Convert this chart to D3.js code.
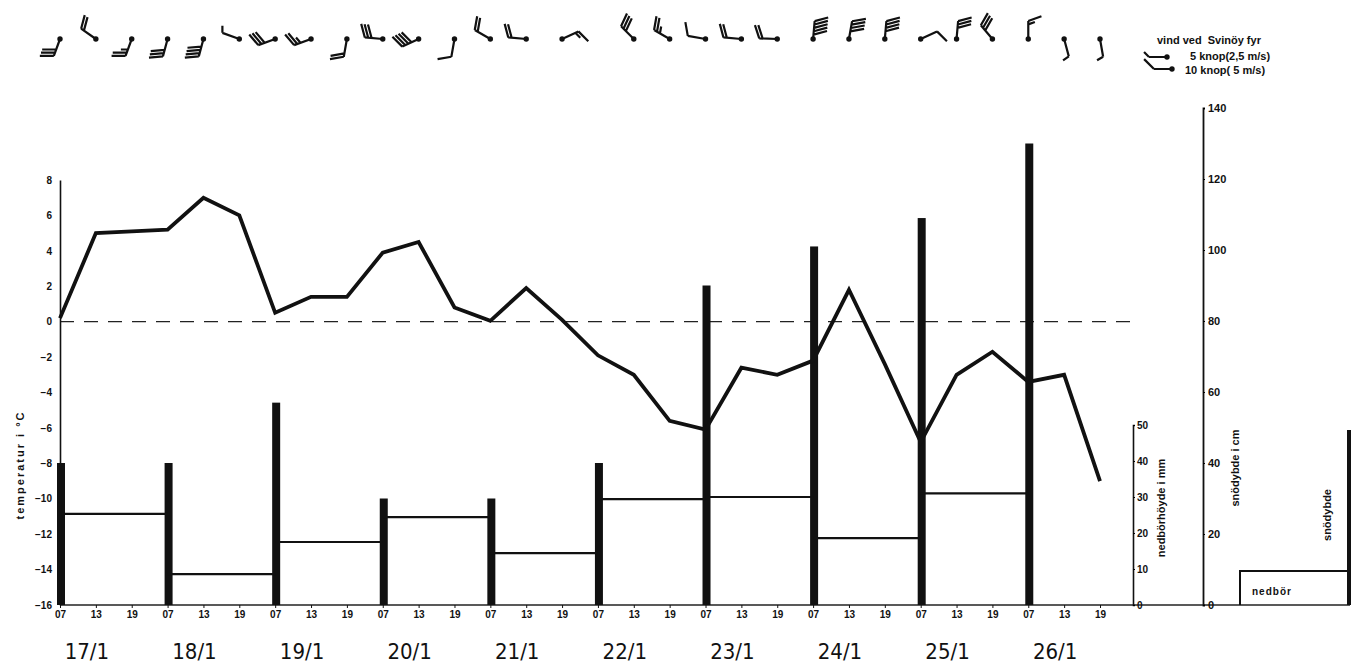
<!DOCTYPE html>
<html>
<head>
<meta charset="utf-8">
<script src="https://cdn.jsdelivr.net/npm/d3@7"></script>
<style>
  body { margin: 0; background: #fff; }
  svg text { font-family: "Liberation Sans", "DejaVu Sans", sans-serif; fill: #111; }
</style>
</head>
<body>
<div id="chart"></div>
<script>
// dager og observasjonstider
var days = ["17/1", "18/1", "19/1", "20/1", "21/1", "22/1", "23/1", "24/1", "25/1", "26/1"];
var hours = ["07", "13", "19"];

// temperatur (°C) kl 07, 13, 19 hver dag
var temperature = [0.2, 5.0, 5.1, 5.2, 7.0, 6.0, 0.5, 1.4, 1.4, 3.9, 4.5, 0.8,
    0.05, 1.9, 0.1, -1.9, -3.0, -5.6, -6.1, -2.6, -3.0, -2.2, 1.8, -2.4,
    -6.8, -3.0, -1.7, -3.4, -3.0, -9.0];

// nedbør (mm) fra kl 07 til kl 07 neste dag
var precipitation = [25.3, 8.6, 17.5, 24.4, 14.4, 29.4, 30.0, 18.6, 31.0];

// snødybde (cm) kl 07
var snowDepth = [40, 40, 57, 30, 30, 40, 90, 101, 109, 130];

// vind ved Svinøy fyr: retning (grader) og styrke (knop), null = stille
var windDir = [200, 305, 200, 195, 195, 290, 250, 250, 190, 275, 245, 190,
    300, 275, 65, null, 315, 300, 280, 275, 272, 5, 10, 5,
    65, 5, 320, 0, 165, 170];
var windKnots = [30, 20, 25, 30, 40, 5, 30, 25, 20, 30, 40, 10,
    20, 20, 15, null, 30, 25, 10, 20, 20, 50, 40, 40,
    10, 30, 30, 15, 5, 5];

var width = 1351, height = 664;
var svg = d3.select("#chart").append("svg")
    .attr("width", width)
    .attr("height", height);

var baseY = 605;

// skalaer
var x = d3.scaleLinear().domain([0, 29]).range([60, 1100]);
var yTemp = d3.scaleLinear().domain([-16, 8]).range([baseY, 180]);
var yPrec = d3.scaleLinear().domain([0, 50]).range([baseY, 425]);
var ySnow = d3.scaleLinear().domain([0, 140]).range([baseY, 108]);

// nullinje stiplet
svg.append("line")
    .attr("x1", x(0)).attr("x2", 1135)
    .attr("y1", yTemp(0)).attr("y2", yTemp(0))
    .attr("stroke", "#222").attr("stroke-width", 1.3)
    .attr("stroke-dasharray", "14,10");

// grunnlinje
svg.append("line")
    .attr("x1", x(0)).attr("x2", 1350)
    .attr("y1", baseY).attr("y2", baseY)
    .attr("stroke", "#222").attr("stroke-width", 1.5);

// snødybde som tykke søyler kl 07
svg.selectAll(".snow")
    .data(snowDepth)
    .enter().append("rect")
    .attr("class", "snow")
    .attr("x", function (d, i) { return x(i * 3) - 3; })
    .attr("y", function (d) { return ySnow(d); })
    .attr("width", 8)
    .attr("height", function (d) { return baseY - ySnow(d); })
    .attr("fill", "#111");

// nedbør som trappelinjer
svg.selectAll(".prec")
    .data(precipitation)
    .enter().append("line")
    .attr("class", "prec")
    .attr("x1", function (d, i) { return x(i * 3); })
    .attr("x2", function (d, i) { return x(i * 3 + 3); })
    .attr("y1", function (d) { return yPrec(d); })
    .attr("y2", function (d) { return yPrec(d); })
    .attr("stroke", "#111").attr("stroke-width", 2.2);

// temperaturkurve
var line = d3.line()
    .x(function (d, i) { return x(i); })
    .y(function (d) { return yTemp(d); });
svg.append("path")
    .datum(temperature)
    .attr("d", line)
    .attr("fill", "none")
    .attr("stroke", "#111")
    .attr("stroke-width", 3.8)
    .attr("stroke-linejoin", "miter");

// temperaturakse
var gT = svg.append("g")
    .attr("transform", "translate(" + x(0) + ",0)")
    .call(d3.axisLeft(yTemp).tickValues(d3.range(-16, 9, 2)).tickSize(0).tickPadding(8));
gT.select(".domain").attr("stroke", "#111").attr("stroke-width", 1.6);
gT.selectAll("text").style("font-size", "10px").style("font-weight", "bold");

svg.append("text")
    .attr("transform", "translate(24,465) rotate(-90)")
    .attr("text-anchor", "middle")
    .style("font-size", "11px").style("font-weight", "bold")
    .style("letter-spacing", "2px")
    .text("temperatur i °C");

// tidsakse
var gX = svg.append("g")
    .attr("transform", "translate(0," + baseY + ")")
    .call(d3.axisBottom(x).tickValues(d3.range(30)).tickSize(3).tickPadding(3)
        .tickFormat(function (i) { return hours[i % 3]; }));
gX.select(".domain").remove();
gX.selectAll("line").attr("stroke", "#111");
gX.selectAll("text").style("font-size", "10px").style("font-weight", "bold");

svg.selectAll(".day")
    .data(days)
    .enter().append("text")
    .attr("class", "day")
    .attr("x", function (d, i) { return x(i * 3 + 0.75); })
    .attr("y", 659)
    .attr("text-anchor", "middle")
    .style("font-size", "22px")
    .style("font-family", "'DejaVu Sans', sans-serif")
    .style("font-stretch", "condensed")
    .style("font-weight", "normal")
    .text(function (d) { return d; });

// nedbørakse
var gP = svg.append("g")
    .attr("transform", "translate(1133,0)")
    .call(d3.axisRight(yPrec).tickValues([0, 10, 20, 30, 40, 50]).tickSize(2).tickPadding(2));
gP.select(".domain").attr("stroke", "#111").attr("stroke-width", 1.6);
gP.selectAll("text").style("font-size", "10px").style("font-weight", "bold");
svg.append("text")
    .attr("transform", "translate(1165,508) rotate(-90)")
    .attr("text-anchor", "middle")
    .style("font-size", "11px").style("font-weight", "bold")
    .text("nedbörhöyde i mm");

// snødybdeakse
var gS = svg.append("g")
    .attr("transform", "translate(1203,0)")
    .call(d3.axisRight(ySnow).tickValues(d3.range(0, 141, 20)).tickSize(2).tickPadding(3));
gS.select(".domain").attr("stroke", "#111").attr("stroke-width", 1.8);
gS.selectAll("text").style("font-size", "11px").style("font-weight", "bold");
svg.append("text")
    .attr("transform", "translate(1239,468) rotate(-90)")
    .attr("text-anchor", "middle")
    .style("font-size", "11px").style("font-weight", "bold")
    .text("snödybde i cm");

// tegnforklaring nedbør / snødybde
svg.append("path")
    .attr("d", "M1240," + baseY + "V571H1347")
    .attr("fill", "none").attr("stroke", "#111").attr("stroke-width", 2);
svg.append("text")
    .attr("x", 1252).attr("y", 595)
    .style("font-size", "10px").style("font-weight", "bold")
    .style("letter-spacing", "1px")
    .text("nedbör");
svg.append("rect")
    .attr("x", 1347).attr("y", 430)
    .attr("width", 4).attr("height", baseY - 430)
    .attr("fill", "#111");
svg.append("text")
    .attr("transform", "translate(1331,515) rotate(-90)")
    .attr("text-anchor", "middle")
    .style("font-size", "11px").style("font-weight", "bold")
    .text("snödybde");

// vindpiler
function drawBarb(g, px, py, dir, knots, turn) {
    var r = Math.PI / 180;
    var ux = Math.sin(dir * r), uy = -Math.cos(dir * r);
    var fa = dir + (turn || 70);
    var fx = Math.sin(fa * r), fy = -Math.cos(fa * r);
    var L = 18;
    var ex = px + ux * L, ey = py + uy * L;
    var p = "M" + px + "," + py + "L" + ex + "," + ey;
    var full = Math.floor(knots / 10);
    var half = (knots % 10) >= 5 ? 1 : 0;
    var pos = 0;
    for (var k = 0; k < full; k++) {
        var sx = ex - ux * pos, sy = ey - uy * pos;
        p += "M" + sx + "," + sy + "L" + (sx + fx * 14) + "," + (sy + fy * 14);
        pos += 3.4;
    }
    if (half) {
        var hx = ex - ux * pos, hy = ey - uy * pos;
        p += "M" + hx + "," + hy + "L" + (hx + fx * 7) + "," + (hy + fy * 7);
    }
    g.append("path").attr("d", p)
        .attr("fill", "none").attr("stroke", "#111").attr("stroke-width", 2.2);
    g.append("circle").attr("cx", px).attr("cy", py).attr("r", 2.7).attr("fill", "#111");
}

var gW = svg.append("g");
windDir.forEach(function (d, i) {
    if (d === null) return;
    drawBarb(gW, x(i), 39, d, windKnots[i]);
});

// forklaring vind
svg.append("text")
    .attr("x", 1157).attr("y", 44)
    .style("font-size", "11px").style("font-weight", "bold")
    .style("white-space", "pre")
    .text("vind ved  Svinöy fyr");
drawBarb(svg, 1167, 57, 270, 5, 45);
svg.append("text")
    .attr("x", 1190).attr("y", 60)
    .style("font-size", "11px").style("font-weight", "bold")
    .text("5 knop(2,5 m/s)");
drawBarb(svg, 1172, 69, 270, 10, 45);
svg.append("text")
    .attr("x", 1185).attr("y", 74)
    .style("font-size", "11px").style("font-weight", "bold")
    .text("10 knop( 5 m/s)");
</script>
</body>
</html>
